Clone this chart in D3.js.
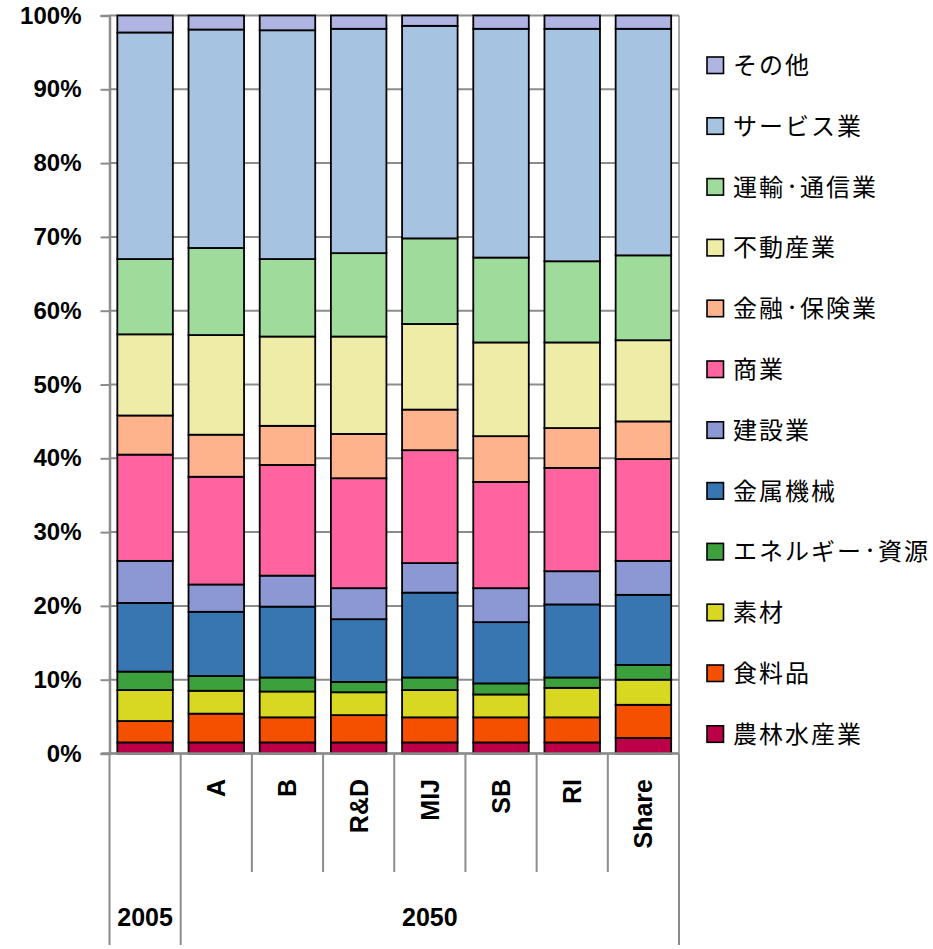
<!DOCTYPE html>
<html><head><meta charset="utf-8">
<script src="https://cdn.jsdelivr.net/npm/d3@7"></script>
<style>
body{margin:0;background:#fff;}
svg{display:block;}
</style></head>
<body>
<svg id="c" width="933" height="949"></svg>
<script>
const categories = ["2005","A","B","R&D","MIJ","SB","RI","Share"];
const groups = ["2005","2050"];
const groupSizes = [1,7];
const sectors = ["農林水産業","食料品","素材","エネルギー・資源","金属機械","建設業","商業","金融・保険業","不動産業","運輸・通信業","サービス業","その他"];
const colors = ["#bc0048","#f45000","#d8d822","#3ca03c","#3876b2","#8c98d4","#ff64a0","#ffb38c","#eeeca6","#9fdc9c","#a6c4e2","#b0b4e2"];
// values (%) per category, bottom-to-top order of sectors
const v2005  = [1.5,2.9,4.2,2.5,9.3,5.7,14.4,5.3,11.0,10.2,30.7,2.3];
const vA     = [1.5,3.9,3.1,2.0,8.7,3.7,14.6,5.7,13.5,11.8,29.6,1.9];
const vB     = [1.5,3.4,3.5,1.9,9.6,4.2,15.0,5.3,12.1,10.5,31.0,2.0];
const vRD    = [1.5,3.7,3.1,1.4,8.5,4.2,14.9,6.0,13.2,11.3,30.4,1.8];
const vMIJ   = [1.5,3.4,3.7,1.7,11.5,4.0,15.3,5.5,11.6,11.6,28.8,1.4];
const vSB    = [1.5,3.4,3.1,1.5,8.3,4.6,14.4,6.2,12.7,11.5,31.0,1.8];
const vRI    = [1.5,3.4,4.0,1.4,9.9,4.5,14.0,5.4,11.6,11.0,31.5,1.8];
const vShare = [2.1,4.5,3.4,2.0,9.5,4.6,13.8,5.1,11.0,11.5,30.7,1.8];
const yTicks = [0,10,20,30,40,50,60,70,80,90,100];

const series = [v2005,vA,vB,vRD,vMIJ,vSB,vRI,vShare];
const rows = categories.map((c,i)=>{const o={cat:c}; sectors.forEach((s,j)=>o[s]=series[i][j]); return o;});

const svg = d3.select("#c");
const L=109.5, R=679, T=15.5, B=753.5;
const x = d3.scaleBand().domain(categories).range([L,R]).paddingInner(0.22).paddingOuter(0.11);
const y = d3.scaleLinear().domain([0,100]).range([B,T]);
const grid="#8c8c8c";

// gridlines
svg.append("g").selectAll("line").data(yTicks).join("line")
  .attr("x1",L).attr("x2",R).attr("y1",d=>y(d)).attr("y2",d=>y(d))
  .attr("stroke",grid).attr("stroke-width",2);
// right border
svg.append("line").attr("x1",R).attr("x2",R).attr("y1",y(100)).attr("y2",B).attr("stroke",grid).attr("stroke-width",1.5);

// bars
const stack = d3.stack().keys(sectors)(rows);
svg.append("g").selectAll("g").data(stack).join("g")
  .attr("fill",(d,i)=>colors[i])
  .selectAll("rect").data(d=>d).join("rect")
  .attr("x",d=>x(d.data.cat)).attr("width",x.bandwidth())
  .attr("y",d=>y(d[1])).attr("height",d=>y(d[0])-y(d[1]))
  .attr("stroke","#000").attr("stroke-width",1.8);

// y axis
const yAxis = d3.axisLeft(y).tickValues(yTicks).tickFormat(d=>d+"%").tickSize(9).tickPadding(19);
const ga = svg.append("g").attr("transform",`translate(${L},0)`).call(yAxis);
ga.select(".domain").attr("stroke",grid).attr("stroke-width",2.5);
ga.selectAll(".tick line").attr("stroke",grid).attr("stroke-width",2);
ga.selectAll(".tick text").attr("font-family","Liberation Sans, Arial, sans-serif").attr("font-weight","bold").attr("font-size",24).attr("fill","#000");

// category axis separators
const step = x.step(), half=(step-x.bandwidth())/2;
const bounds = categories.map(c=>x(c)-half).concat([x(categories[categories.length-1])+x.bandwidth()+half]);
const groupEdges = [0]; groupSizes.reduce((a,n)=>{groupEdges.push(a+n); return a+n;},0);
svg.append("g").selectAll("line").data(bounds).join("line")
  .attr("x1",d=>d).attr("x2",d=>d).attr("y1",B)
  .attr("y2",(d,i)=>groupEdges.includes(i)?945:872)
  .attr("stroke",grid).attr("stroke-width",2);
svg.append("line").attr("x1",L-8).attr("x2",R).attr("y1",B).attr("y2",B).attr("stroke",grid).attr("stroke-width",2.5);

// category labels (rotated), skip the 2005 one which is shown as group label
svg.append("g").selectAll("text").data(categories.slice(1)).join("text")
  .attr("transform",d=>`translate(${x(d)+x.bandwidth()/2+9},779) rotate(-90)`)
  .attr("text-anchor","end")
  .attr("font-family","Liberation Sans, Arial, sans-serif").attr("font-weight","bold").attr("font-size",25)
  .text(d=>d);

// group labels
svg.append("g").selectAll("text").data(groups).join("text")
  .attr("x",(d,i)=>(bounds[groupEdges[i]]+bounds[groupEdges[i+1]])/2)
  .attr("y",926).attr("text-anchor","middle")
  .attr("font-family","Liberation Sans, Arial, sans-serif").attr("font-weight","bold").attr("font-size",25)
  .text(d=>d);

// legend
const legendItems = sectors.map((s,i)=>({s,c:colors[i]})).reverse();
const lg = svg.append("g").selectAll("g").data(legendItems).join("g")
  .attr("transform",(d,i)=>`translate(707,${65+i*60.8})`);
lg.append("rect").attr("x",0).attr("y",-8).attr("width",16.5).attr("height",16.5)
  .attr("fill",d=>d.c).attr("stroke","#000").attr("stroke-width",1.6);
const lt = lg.append("text").attr("x",26).attr("y",9)
  .attr("font-family","Noto Sans CJK JP, sans-serif").attr("font-size",24).attr("letter-spacing",2)
  .attr("fill","#000");
lt.each(function(d){
  const t = d3.select(this);
  const parts = d.s.split("・");
  parts.forEach((p,k)=>{
    if(k>0){
      t.append("tspan").attr("font-size",14).attr("font-weight","bold").attr("letter-spacing",1).attr("dy",-5).text("・");
      t.append("tspan").attr("dy",5).text(p);
    } else t.append("tspan").text(p);
  });
});
</script>
</body></html>
